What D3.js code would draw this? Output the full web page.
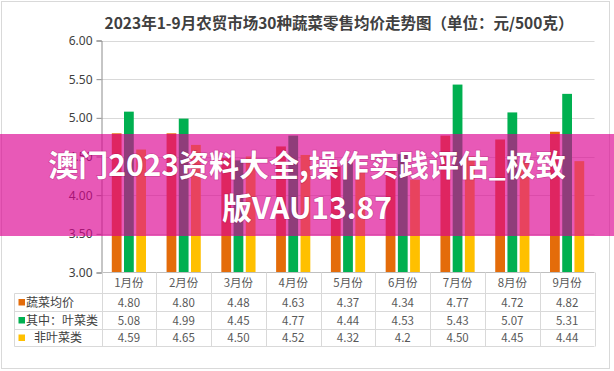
<!DOCTYPE html>
<html>
<head>
<meta charset="utf-8">
<script src="https://cdn.jsdelivr.net/npm/d3@7"></script>
<style>
  html, body { margin: 0; padding: 0; background: #fff; }
  svg { display: block; font-family: "Noto Sans CJK SC", "Noto Sans", sans-serif; }
</style>
</head>
<body>
<svg id="chart" width="614" height="371"></svg>
<script>
var months = ["1月份", "2月份", "3月份", "4月份", "5月份", "6月份", "7月份", "8月份", "9月份"];
// values kept as the table prints them
var avgPrice = ["4.80", "4.80", "4.48", "4.63", "4.37", "4.34", "4.77", "4.72", "4.82"];
var leafyPrice = ["5.08", "4.99", "4.45", "4.77", "4.44", "4.53", "5.43", "5.07", "5.31"];
var nonLeafyPrice = ["4.59", "4.65", "4.50", "4.52", "4.32", "4.2", "4.50", "4.45", "4.44"];
var seriesNames = ["蔬菜均价", "其中：叶菜类", "   非叶菜类"];
var yTicks = [3.00, 3.50, 4.00, 4.50, 5.00, 5.50, 6.00];
var title = "2023年1-9月农贸市场30种蔬菜零售均价走势图（单位：元/500克）";
var bannerLines = ["澳门2023资料大全,操作实践评估_极致", "版VAU13.87"];

var colors = ["#E46C0A", "#00B050", "#FFC000"];
var seriesValues = [avgPrice, leafyPrice, nonLeafyPrice];

var svg = d3.select("#chart");

// outer frame
svg.append("rect")
    .attr("x", 1.5).attr("y", 1.5)
    .attr("width", 608).attr("height", 367)
    .attr("fill", "#fff").attr("stroke", "#d9d9d9");

// plot edges (window.top is reserved, so plotTop etc.)
var plotLeft = 101.5, plotRight = 594.5, plotTop = 40.5, plotBottom = 272.5;

var x = d3.scaleBand().domain(months).range([plotLeft, plotRight]);
var x1 = d3.scaleBand().domain(d3.range(3)).range([-17.1, 17.1]).paddingInner(0.2);
var y = d3.scaleLinear().domain([3, 6]).range([plotBottom, plotTop]);

// title
svg.append("text")
    .attr("x", 339).attr("y", 28.5)
    .attr("text-anchor", "middle")
    .attr("font-size", 15.5).attr("font-weight", "bold")
    .attr("fill", "#404040")
    .text(title);

// gridlines
svg.append("g").selectAll("line")
  .data(yTicks.filter(function(d) { return d > 3; }))
  .enter().append("line")
    .attr("x1", plotLeft).attr("x2", plotRight)
    .attr("y1", function(d) { return Math.round(y(d)) + 0.5; })
    .attr("y2", function(d) { return Math.round(y(d)) + 0.5; })
    .attr("stroke", "#d9d9d9");

// bars
var groups = svg.append("g").selectAll("g")
  .data(months)
  .enter().append("g")
    .attr("transform", function(d) { return "translate(" + (x(d) + x.bandwidth() / 2) + ",0)"; });

groups.selectAll("rect")
  .data(function(d, i) { return seriesValues.map(function(s, k) { return { k: k, v: +s[i] }; }); })
  .enter().append("rect")
    .attr("x", function(d) { return x1(d.k); })
    .attr("width", x1.bandwidth())
    .attr("y", function(d) { return y(d.v); })
    .attr("height", function(d) { return y(3) - y(d.v); })
    .attr("fill", function(d) { return colors[d.k]; });

// y axis
var yAxis = svg.append("g")
    .attr("transform", "translate(" + plotLeft + ",0)")
    .call(d3.axisLeft(y).tickValues(yTicks).tickFormat(d3.format(".2f")).tickSize(5).tickPadding(4));
yAxis.select(".domain").attr("stroke", "#8c8c8c");
yAxis.selectAll(".tick line").attr("stroke", "#8c8c8c");
yAxis.selectAll("text")
    .attr("font-size", 12).attr("fill", "#404040")
    .attr("font-family", "'Noto Sans', sans-serif");

// data table
var rowLines = [plotBottom, 293.5, 311.5, 329.5, 346.5];
var tbl = svg.append("g");
tbl.selectAll("line.h")
  .data(rowLines)
  .enter().append("line")
    .attr("class", "h")
    .attr("x1", function(d, i) { return i === 0 ? plotLeft : 14.5; })
    .attr("x2", plotRight)
    .attr("y1", function(d) { return d; }).attr("y2", function(d) { return d; })
    .attr("stroke", function(d, i) { return i === 0 ? "#bfbfbf" : "#d9d9d9"; });
var vx = months.map(function(m) { return x(m); }).concat([plotRight]);
tbl.selectAll("line.v")
  .data(vx)
  .enter().append("line")
    .attr("class", "v")
    .attr("x1", function(d) { return Math.round(d) + 0.5; })
    .attr("x2", function(d) { return Math.round(d) + 0.5; })
    .attr("y1", plotBottom).attr("y2", rowLines[4])
    .attr("stroke", "#d9d9d9");
tbl.append("line")
    .attr("x1", 14.5).attr("x2", 14.5)
    .attr("y1", rowLines[1]).attr("y2", rowLines[4])
    .attr("stroke", "#d9d9d9");

// month labels
tbl.selectAll("text.m")
  .data(months)
  .enter().append("text")
    .attr("class", "m")
    .attr("x", function(d) { return x(d) + x.bandwidth() / 2; })
    .attr("y", 287)
    .attr("text-anchor", "middle")
    .attr("font-size", 11.5).attr("fill", "#595959")
    .text(function(d) { return d; });

// series rows
seriesValues.forEach(function(vals, k) {
  var cy = (rowLines[k + 1] + rowLines[k + 2]) / 2;
  tbl.append("rect")
      .attr("x", 18.5).attr("y", cy - 3.5)
      .attr("width", 6.5).attr("height", 6.5)
      .attr("fill", colors[k]);
  tbl.append("text")
      .attr("x", 26).attr("y", cy + 4.2)
      .attr("font-size", 12).attr("fill", "#404040")
      .style("white-space", "pre")
      .text(seriesNames[k]);
  tbl.selectAll("text.v" + k)
    .data(vals)
    .enter().append("text")
      .attr("class", "v" + k)
      .attr("x", function(d, i) { return x(months[i]) + x.bandwidth() / 2; })
      .attr("y", cy + 4)
      .attr("text-anchor", "middle")
      .attr("font-size", 11.5).attr("fill", "#595959")
      .text(function(d) { return d; });
});

// overlay banner
svg.append("rect")
    .attr("x", 0).attr("y", 134)
    .attr("width", 614).attr("height", 102)
    .attr("fill", "rgb(219,0,145)")
    .attr("fill-opacity", 0.65);

svg.append("g").selectAll("text")
  .data(bannerLines)
  .enter().append("text")
    .attr("x", 307)
    .attr("y", function(d, i) { return 176 + i * 43; })
    .attr("text-anchor", "middle")
    .attr("font-size", 30).attr("font-weight", "bold")
    .attr("fill", "#fff")
    .style("paint-order", "stroke")
    .attr("stroke", "rgba(120,0,70,0.25)").attr("stroke-width", 1.5)
    .text(function(d) { return d; });
</script>
</body>
</html>
